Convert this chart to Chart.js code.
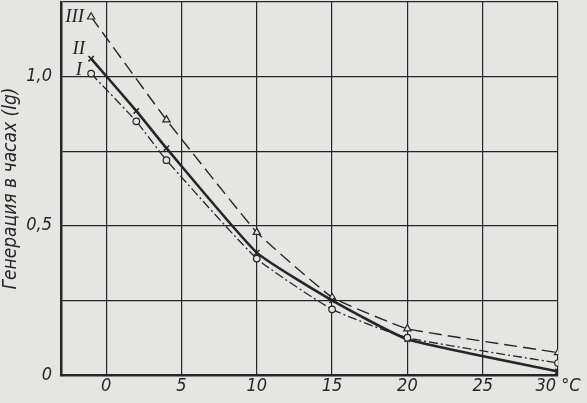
<!DOCTYPE html>
<html>
<head>
<meta charset="utf-8">
<script src="https://cdn.jsdelivr.net/npm/chart.js@4"></script>
<style>
  html, body { margin: 0; padding: 0; background: #e5e5e3; }
  #box { width: 587px; height: 403px; }
</style>
</head>
<body>
<div id="box"><canvas id="chart"></canvas></div>
<script>
// temperature, °C
const xI = [-1, 2, 4, 10, 15, 20, 30];
const yI = [1.01, 0.85, 0.72, 0.39, 0.22, 0.125, 0.04];
const xII = [-1, 2, 4, 10, 15, 20, 30];
const yII = [1.06, 0.885, 0.76, 0.41, 0.25, 0.12, 0.012];
const xIII = [-1, 4, 10, 15, 20, 30];
const yIII = [1.20, 0.855, 0.478, 0.26, 0.155, 0.075];
const seriesNames = ['I', 'II', 'III'];
const xTicks = [0, 5, 10, 15, 20, 25, 30];
const yTicks = [0, 0.25, 0.5, 0.75, 1.0, 1.25];
const yLabels = {0: '0', 0.5: '0,5', 1: '1,0'};

const ink = '#262626';
const paper = '#e5e5e3';
const narrow = "'DejaVu Sans Condensed', 'Liberation Sans Narrow', 'DejaVu Sans', sans-serif";
const tickFont = { family: narrow, size: 18, style: 'italic' };

function toPoints(xs, ys) {
  return xs.map((x, i) => ({ x: x, y: ys[i] }));
}

// roman numerals next to the first point of each curve
const namePlugin = {
  id: 'names',
  afterDatasetsDraw(chart) {
    const ctx = chart.ctx;
    const offsets = [[-9, -4], [-6, -10], [-7, 0]];
    ctx.save();
    ctx.fillStyle = ink;
    ctx.font = "italic 19px 'Liberation Serif', 'DejaVu Serif', serif";
    ctx.textAlign = 'right';
    ctx.textBaseline = 'middle';
    chart.data.datasets.forEach((ds, i) => {
      const p = chart.getDatasetMeta(i).data[0];
      ctx.fillText(seriesNames[i], p.x + offsets[i][0], p.y + offsets[i][1]);
    });
    ctx.restore();
  }
};

new Chart(document.getElementById('chart').getContext('2d'), {
  type: 'scatter',
  data: {
    datasets: [
      {
        data: toPoints(xI, yI),
        showLine: true,
        borderColor: ink,
        borderWidth: 1.3,
        borderDash: [9, 3, 2, 3],
        pointStyle: 'circle',
        pointRadius: 3.3,
        pointBackgroundColor: paper,
        pointBorderColor: ink,
        pointBorderWidth: 1.2,
        tension: 0.15,
      },
      {
        data: toPoints(xII, yII),
        showLine: true,
        borderColor: ink,
        borderWidth: 2.6,
        pointStyle: 'crossRot',
        pointRadius: 3.8,
        pointBorderColor: ink,
        pointBorderWidth: 1.5,
        tension: 0.15,
      },
      {
        data: toPoints(xIII, yIII),
        showLine: true,
        borderColor: ink,
        borderWidth: 1.4,
        borderDash: [13, 6],
        pointStyle: 'triangle',
        pointRadius: 4.2,
        pointBackgroundColor: paper,
        pointBorderColor: ink,
        pointBorderWidth: 1.2,
        tension: 0.1,
      },
    ]
  },
  options: {
    responsive: true,
    maintainAspectRatio: false,
    animation: false,
    layout: { autoPadding: false, padding: { left: 0, right: 29, top: 2, bottom: 0 } },
    plugins: {
      legend: { display: false },
      tooltip: { enabled: false }
    },
    scales: {
      x: {
        type: 'linear',
        min: -3,
        max: 30,
        afterBuildTicks: (scale) => { scale.ticks = xTicks.map(v => ({ value: v })); },
        afterFit: (scale) => { scale.height = 28; scale.paddingLeft = 0; scale.paddingRight = 0; },
        ticks: {
          color: ink,
          font: tickFont,
          padding: 1,
          maxRotation: 0,
          callback: (v) => v === 30 ? '30 °C' : String(v)
        },
        grid: { color: ink, lineWidth: 1.2, drawTicks: false },
        border: { color: ink, width: 2.5 }
      },
      y: {
        min: 0,
        max: 1.25,
        afterBuildTicks: (scale) => { scale.ticks = yTicks.map(v => ({ value: v })); },
        afterFit: (scale) => { scale.width = 61; scale.paddingTop = 0; scale.paddingBottom = 0; },
        ticks: {
          color: ink,
          font: tickFont,
          padding: 9,
          callback: (v) => yLabels[v] !== undefined ? yLabels[v] : ''
        },
        grid: { color: ink, lineWidth: 1.2, drawTicks: false },
        border: { color: ink, width: 2.5 },
        title: {
          display: true,
          text: 'Генерация в часах (lg)',
          color: ink,
          font: { family: narrow, size: 19, style: 'italic' },
          padding: { top: 0, bottom: 0 }
        }
      }
    }
  },
  plugins: [namePlugin]
});
</script>
</body>
</html>
